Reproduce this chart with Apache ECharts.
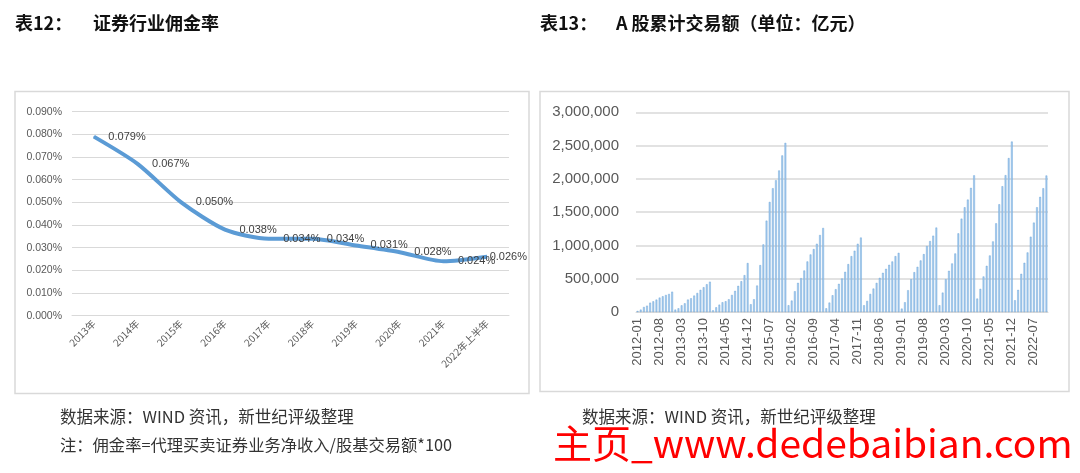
<!DOCTYPE html>
<html><head><meta charset="utf-8">
<script src="https://cdn.jsdelivr.net/npm/echarts/dist/echarts.min.js"></script>
<style>html,body{margin:0;padding:0;background:#fff;}#c{width:1080px;height:473px;}</style>
</head><body><div id="c"></div>
<script>
// ---- Left chart: commission rate ----
const rateYears = ['2013年','2014年','2015年','2016年','2017年','2018年','2019年','2020年','2021年','2022年上半年'];
const rateValues = [0.079,0.067,0.050,0.038,0.034,0.034,0.031,0.028,0.024,0.026];

// ---- Right chart: A-share cumulative turnover (亿元), monthly ----
const vol2012 = [15000,35000,75000,95000,140000,160000,186000,216000,236000,256000,271000,305000];
const vol2013 = [35000,55000,100000,130000,186000,206000,246000,286000,332000,372000,417000,455000];
const vol2014 = [25000,70000,110000,146000,161000,191000,256000,317000,392000,462000,553000,735000];
const vol2015 = [116000,191000,397000,704000,1015000,1372000,1653000,1859000,1980000,2126000,2352000,2540000];
const vol2016 = [101000,171000,312000,437000,508000,623000,759000,864000,945000,1025000,1156000,1262000];
const vol2017 = [55000,141000,251000,342000,422000,503000,603000,719000,839000,920000,1025000,1118000];
const vol2018 = [101000,166000,271000,352000,437000,513000,588000,648000,709000,759000,839000,888000];
const vol2019 = [50000,146000,327000,492000,598000,678000,774000,869000,990000,1065000,1146000,1268000];
const vol2020 = [101000,291000,492000,618000,729000,879000,1181000,1402000,1573000,1688000,1864000,2052000];
const vol2021 = [201000,347000,533000,693000,849000,1060000,1332000,1618000,1889000,2055000,2312000,2560000];
const vol2022 = [176000,332000,573000,739000,894000,1131000,1342000,1573000,1729000,1859000,2050000];
const volYears = [2012,2013,2014,2015,2016,2017,2018,2019,2020,2021,2022];
const volByYear = [vol2012,vol2013,vol2014,vol2015,vol2016,vol2017,vol2018,vol2019,vol2020,vol2021,vol2022];

const monthCategories = [];
const volValues = [];
volByYear.forEach(function(arr, i){
  arr.forEach(function(v, m){
    monthCategories.push(volYears[i] + '-' + String(m+1).padStart(2,'0'));
    volValues.push(v);
  });
});

const CJK = '"Noto Sans CJK SC", "Noto Sans", sans-serif';
const LAT = '"Liberation Sans", Arial, sans-serif';
const chart = echarts.init(document.getElementById('c'));

const rateData = rateValues.map(function(v, i){
  if (i === rateValues.length - 1) return {value: v, label: {distance: 2}};
  return v;
});

chart.setOption({
  backgroundColor: '#ffffff',
  animation: false,
  graphic: [
    {type:'rect', shape:{x:15, y:91.5, width:514, height:302}, style:{fill:'none', stroke:'#d9d9d9', lineWidth:1.5}, z:-1},
    {type:'rect', shape:{x:540, y:91.5, width:529, height:300}, style:{fill:'none', stroke:'#d9d9d9', lineWidth:1.5}, z:-1},
    {type:'text', left:15, top:14, style:{text:'表12：', font:'bold 18px ' + CJK, fill:'#111'}},
    {type:'text', left:93, top:14, style:{text:'证券行业佣金率', font:'bold 18px ' + CJK, fill:'#111'}},
    {type:'text', left:540, top:14, style:{text:'表13：', font:'bold 18px ' + CJK, fill:'#111'}},
    {type:'text', left:616, top:14, style:{text:'A 股累计交易额（单位：亿元）', font:'bold 18px ' + CJK, fill:'#111'}},
    {type:'text', left:60, top:408, style:{text:'数据来源：WIND 资讯，新世纪评级整理', font:'16.5px ' + CJK, fill:'#333'}},
    {type:'text', left:60, top:437, style:{text:'注：佣金率=代理买卖证券业务净收入/股基交易额*100', font:'16.3px ' + CJK, fill:'#333'}},
    {type:'text', left:582, top:408, style:{text:'数据来源：WIND 资讯，新世纪评级整理', font:'16.5px ' + CJK, fill:'#333'}},
    {type:'text', left:553, top:424, style:{text:'主页_www.dedebaibian.com', font:'39px ' + CJK, fill:'#ff0000'}, z:10}
  ],
  grid: [
    {left:72, right:571, top:111.7, bottom:157.3},
    {left:636, right:32, top:112.3, bottom:161}
  ],
  xAxis: [
    {type:'category', gridIndex:0, data:rateYears, boundaryGap:true,
     axisLine:{show:true, lineStyle:{color:'#d9d9d9'}}, axisTick:{show:false},
     axisLabel:{rotate:45, fontSize:10, color:'#595959', margin:6, interval:0, fontFamily:CJK}},
    {type:'category', gridIndex:1, data:monthCategories, boundaryGap:true,
     axisLine:{show:true, lineStyle:{color:'#d9d9d9'}}, axisTick:{show:false},
     axisLabel:{rotate:90, fontSize:13, color:'#595959', margin:6, interval:6, fontFamily:LAT}}
  ],
  yAxis: [
    {type:'value', gridIndex:0, min:0, max:0.09, interval:0.01,
     axisLine:{show:false}, axisTick:{show:false},
     splitLine:{lineStyle:{color:'#d9d9d9', width:1}},
     axisLabel:{fontSize:10.5, color:'#595959', margin:10, fontFamily:LAT,
       formatter:function(v){return v.toFixed(3)+'%';}}},
    {type:'value', gridIndex:1, min:0, max:3000000, interval:500000,
     axisLine:{show:false}, axisTick:{show:false},
     splitLine:{lineStyle:{color:'#d9d9d9', width:1.5}},
     axisLabel:{fontSize:15, color:'#595959', margin:17, fontFamily:LAT,
       formatter:function(v){return v.toLocaleString('en-US');}}}
  ],
  series: [
    {type:'line', xAxisIndex:0, yAxisIndex:0, data:rateData, smooth:0.25,
     symbol:'circle', symbolSize:1, itemStyle:{color:'#5b9bd5'},
     lineStyle:{color:'#5b9bd5', width:4},
     label:{show:true, position:'right', distance:14, fontSize:11, color:'#404040',
       fontFamily:LAT,
       formatter:function(p){return p.value.toFixed(3)+'%';}}},
    {type:'bar', xAxisIndex:1, yAxisIndex:1, data:volValues, barWidth:'55%',
     itemStyle:{color:'#a9cdee', borderColor:'#5b9bd5', borderWidth:0.4}}
  ]
});
</script>
</body></html>
